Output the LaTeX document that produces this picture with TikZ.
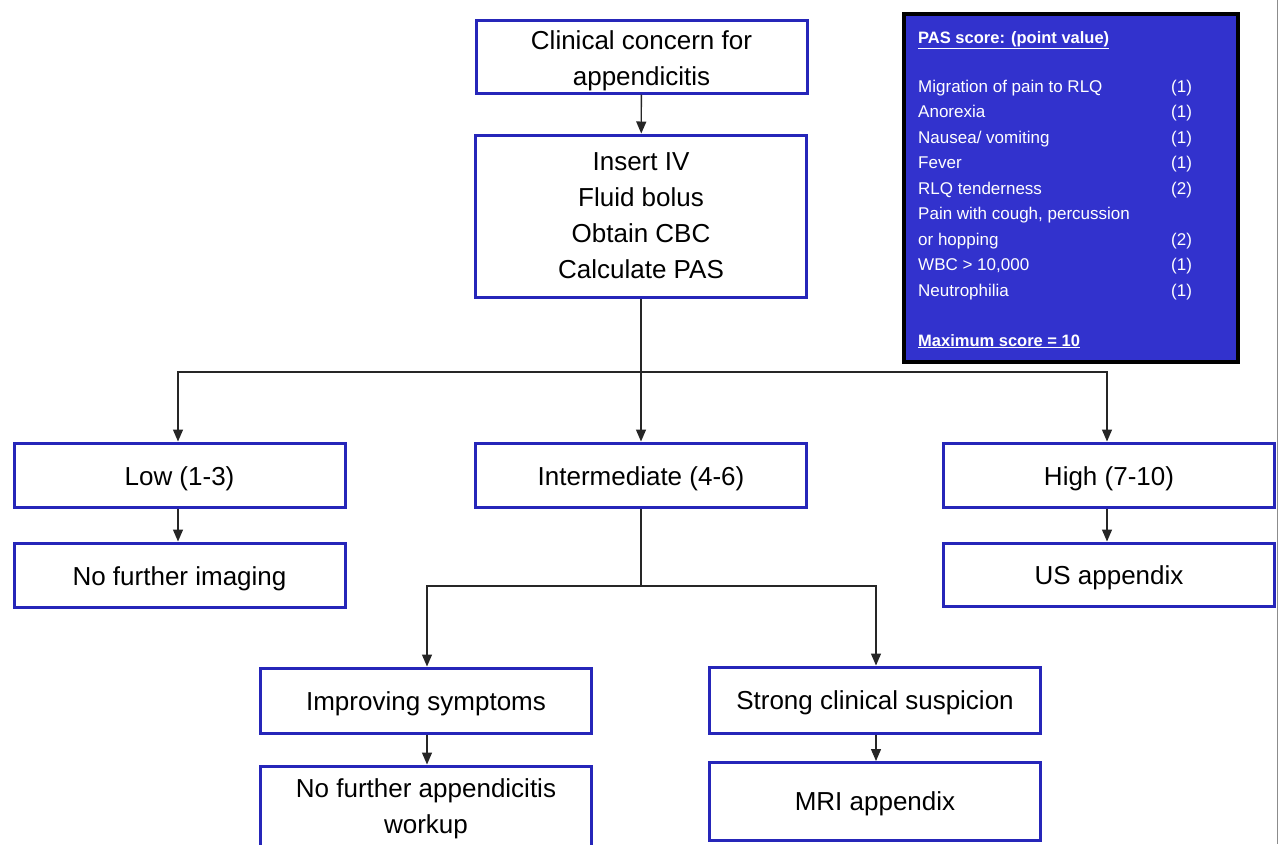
\documentclass[tikz,border=0pt]{standalone}
\usepackage{fontspec}
\setmainfont{Liberation Sans}
\usetikzlibrary{arrows.meta}
\definecolor{boxblue}{RGB}{38,38,185}
\definecolor{legblue}{RGB}{50,50,205}
\newcommand{\shiftdn}[2]{\raisebox{#1}[\height][\depth]{#2}}
\tikzset{
  flowbox/.style={draw=boxblue, line width=3pt, fill=white, align=center,
    minimum width=331pt, inner sep=0pt,
    font=\fontsize{26}{36}\selectfont},
  conn/.style={draw=black!85, line width=1.3pt, -{Triangle[length=12pt,width=10pt]}},
  plain/.style={draw=black!85, line width=1.3pt},
  legtext/.style={text=white, anchor=base west, inner sep=0pt, font=\fontsize{17}{20}\selectfont},
}
\begin{document}
\begin{tikzpicture}[x=1pt,y=-1pt]
\useasboundingbox (0,0) rectangle (1279,844);
\fill[white] (0,0) rectangle (1279,844);
\draw[black!45, line width=1.5pt] (1277.5,0) -- (1277.5,844);

% main boxes
\node[flowbox, minimum height=73pt] (top) at (641.5,56.5) {\shiftdn{-4pt}{Clinical concern for}\\\shiftdn{-4pt}{appendicitis}};
\node[flowbox, minimum height=162pt] (steps) at (641,216) {Insert IV\\Fluid bolus\\Obtain CBC\\Calculate PAS};
\node[flowbox, minimum height=64pt] (low) at (179.5,475) {\shiftdn{-4pt}{Low (1-3)}};
\node[flowbox, minimum height=64pt] (mid) at (641,475) {\shiftdn{-4pt}{Intermediate (4-6)}};
\node[flowbox, minimum height=64pt] (high) at (1109,475) {\shiftdn{-4pt}{High (7-10)}};
\node[flowbox, minimum height=64pt] (noimg) at (179.5,575) {\shiftdn{-4pt}{No further imaging}};
\node[flowbox, minimum height=63pt] (us) at (1109,574.5) {\shiftdn{-3pt}{US appendix}};
\node[flowbox, minimum height=65pt] (impr) at (426,700.5) {\shiftdn{-3pt}{Improving symptoms}};
\node[flowbox, minimum height=66pt] (strong) at (875,700) {\shiftdn{-3pt}{Strong clinical suspicion}};
\node[flowbox, minimum height=92pt] (nowork) at (426,812) {\shiftdn{3pt}{No further appendicitis}\\\shiftdn{3pt}{workup}};
\node[flowbox, minimum height=78pt] (mri) at (875,801.5) {\shiftdn{-2pt}{MRI appendix}};

% connectors
\coordinate (j1) at (641,372);
\coordinate (j2) at (641,586);
\draw[conn] (top) -- (steps);
\draw[plain] (steps) -- (j1);
\draw[conn] (j1) -| (low.north -| 178,0);
\draw[conn] (j1) -- (mid);
\draw[conn] (j1) -| (high.north -| 1107,0);
\draw[conn] (low.south -| 178,0) -- (noimg.north -| 178,0);
\draw[conn] (high.south -| 1107,0) -- (us.north -| 1107,0);
\draw[plain] (mid) -- (j2);
\draw[conn] (j2) -| (impr.north -| 427,0);
\draw[conn] (j2) -| (strong.north -| 876,0);
\draw[conn] (impr.south -| 427,0) -- (nowork.north -| 427,0);
\draw[conn] (strong.south -| 876,0) -- (mri.north -| 876,0);

% legend
\node[draw=black, fill=legblue, line width=3.5pt, minimum width=334pt, minimum height=348pt, inner sep=0pt] (legend) at (1071,188) {};
\node[legtext, font=\fontsize{16.5}{20}\selectfont\bfseries] (lt) at (918,43) {\underline{PAS score: (point value)}};
\node[legtext] (l1) at (918,92) {Migration of pain to RLQ};
\node[legtext] (l2) at (918,117.5) {Anorexia};
\node[legtext] (l3) at (918,143) {Nausea/ vomiting};
\node[legtext] (l4) at (918,168.5) {Fever};
\node[legtext] (l5) at (918,194) {RLQ tenderness};
\node[legtext] (l6) at (918,219.5) {Pain with cough, percussion};
\node[legtext] (l7) at (918,245) {or hopping};
\node[legtext] (l8) at (918,270.5) {WBC > 10,000};
\node[legtext] (l9) at (918,296) {Neutrophilia};
\node[legtext] (p1) at (1171,92) {(1)};
\node[legtext] (p2) at (1171,117.5) {(1)};
\node[legtext] (p3) at (1171,143) {(1)};
\node[legtext] (p4) at (1171,168.5) {(1)};
\node[legtext] (p5) at (1171,194) {(2)};
\node[legtext] (p7) at (1171,245) {(2)};
\node[legtext] (p8) at (1171,270.5) {(1)};
\node[legtext] (p9) at (1171,296) {(1)};
\node[legtext, font=\fontsize{16.5}{20}\selectfont\bfseries] (lm) at (918,346) {\underline{Maximum score = 10}};
\end{tikzpicture}
\end{document}
